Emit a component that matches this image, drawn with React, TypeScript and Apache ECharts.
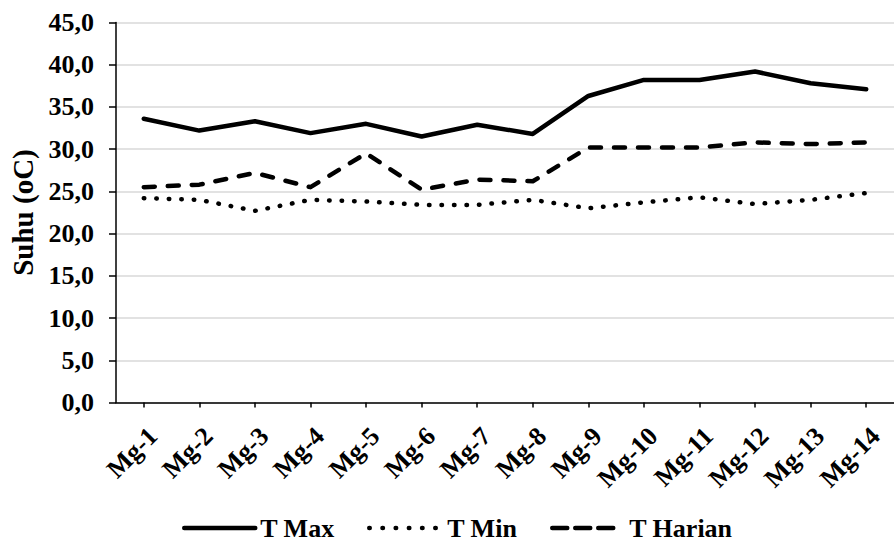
import React, { useEffect, useRef } from "react";
import * as echarts from "echarts";

const categories = ["Mg-1", "Mg-2", "Mg-3", "Mg-4", "Mg-5", "Mg-6", "Mg-7", "Mg-8", "Mg-9", "Mg-10", "Mg-11", "Mg-12", "Mg-13", "Mg-14"];
const tMax = [33.6, 32.2, 33.3, 31.9, 33.0, 31.5, 32.9, 31.8, 36.3, 38.2, 38.2, 39.2, 37.8, 37.1];
const tMin = [24.2, 24.0, 22.7, 24.0, 23.8, 23.4, 23.4, 24.0, 23.0, 23.7, 24.3, 23.5, 24.0, 24.8];
const tHarian = [25.5, 25.8, 27.2, 25.5, 29.5, 25.2, 26.4, 26.2, 30.2, 30.2, 30.2, 30.8, 30.6, 30.8];
const seriesNames = ["T Max", "T Min", "T Harian"];

const FONT = "'Liberation Serif', 'Times New Roman', serif";

const legendLayout = [
  { left: 182, width: 71, textPad: 0, dash: "solid" as any },
  { left: 367, width: 67, textPad: 6, dash: [0.5, 12.7] as any },
  { left: 550, width: 61, textPad: 11, dash: [15, 8] as any },
];

export default function App() {
  const ref = useRef<HTMLDivElement>(null);
  useEffect(() => {
    if (!ref.current) return;
    const chart = echarts.init(ref.current, undefined, { renderer: "svg" });
    chart.setOption({
      animation: false,
      backgroundColor: "#ffffff",
      textStyle: { fontFamily: FONT },
      grid: { left: 116, top: 22.5, width: 786, height: 380, containLabel: false },
      legend: seriesNames.map((n, i) => ({
        data: [n],
        left: legendLayout[i].left,
        top: 515,
        padding: 0,
        itemWidth: legendLayout[i].width,
        itemHeight: 26,
        itemStyle: { opacity: 0 },
        lineStyle: { width: 4.5, type: legendLayout[i].dash, cap: "round" },
        selectedMode: false,
        textStyle: {
          fontFamily: FONT,
          fontSize: 26,
          fontWeight: "bold",
          color: "#000",
          padding: [0, 0, 0, legendLayout[i].textPad],
        },
      })),
      xAxis: {
        type: "category",
        data: categories,
        boundaryGap: true,
        axisLine: { lineStyle: { color: "#000", width: 1.5 } },
        axisTick: { show: true, alignWithLabel: true, length: 5, lineStyle: { color: "#000", width: 1.5 } },
        axisLabel: {
          rotate: 45,
          interval: 0,
          margin: 20,
          verticalAlign: "top",
          fontFamily: FONT,
          fontSize: 26,
          fontWeight: "bold",
          color: "#000",
        },
        splitLine: { show: false },
      },
      yAxis: {
        type: "value",
        min: 0,
        max: 45,
        interval: 5,
        name: "Suhu (oC)",
        nameLocation: "middle",
        nameGap: 78,
        nameTextStyle: { fontFamily: FONT, fontSize: 29, fontWeight: "bold", color: "#000" },
        axisLine: { show: true, lineStyle: { color: "#000", width: 1.5 } },
        axisTick: { show: true, length: 7, lineStyle: { color: "#000", width: 1.5 } },
        axisLabel: {
          margin: 22,
          fontFamily: FONT,
          fontSize: 26,
          fontWeight: "bold",
          color: "#000",
          formatter: (v: number) => v.toFixed(1).replace(".", ","),
        },
        splitLine: { show: true, lineStyle: { color: "#d9d9d9", width: 1.5 } },
      },
      series: [
        {
          name: seriesNames[0],
          type: "line",
          data: tMax,
          symbol: "none",
          lineStyle: { color: "#000", width: 4.5, cap: "round", join: "round" },
          itemStyle: { color: "#000" },
        },
        {
          name: seriesNames[1],
          type: "line",
          data: tMin,
          symbol: "none",
          lineStyle: { color: "#000", width: 4.5, type: [0.5, 12], cap: "round", join: "round" },
          itemStyle: { color: "#000" },
        },
        {
          name: seriesNames[2],
          type: "line",
          data: tHarian,
          symbol: "none",
          lineStyle: { color: "#000", width: 4.5, type: [11, 13], cap: "round", join: "round" },
          itemStyle: { color: "#000" },
        },
      ],
    });
    return () => chart.dispose();
  }, []);
  return <div ref={ref} style={{ width: 894, height: 542, position: "absolute", left: 0, top: 0 }} />;
}
